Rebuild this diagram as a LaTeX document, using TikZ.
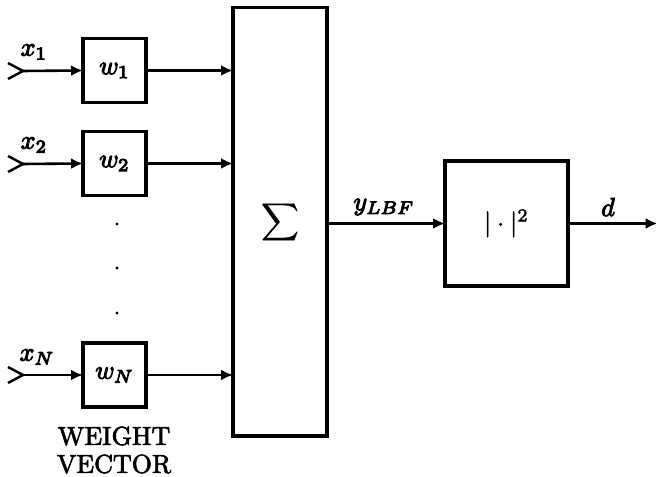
\documentclass[tikz,border=0pt]{standalone}
\usepackage{amsmath}
\usetikzlibrary{arrows.meta}
\newcommand{\heavy}[2][0.38]{\special{pdf:code 2 Tr #1 w}#2\special{pdf:code 0 Tr}}
\tikzset{
  blockbox/.style={draw=black,line width=1.2pt,fill=white,inner sep=0pt,minimum width=#1},
  conn/.style={line width=1pt,-{Latex[length=4.6pt,width=4.2pt]},shorten >=-0.6pt},
  chevron/.style={line width=0.95pt},
  lbl/.style={inner sep=0pt,text=black},
  speck/.style={circle,fill=black,inner sep=0pt,minimum size=1.3pt}
}
\begin{document}
\begin{tikzpicture}[x=0.384pt,y=-0.384pt]
\useasboundingbox (0,0) rectangle (656,477);
% blocks
\node[blockbox=24.2pt,minimum height=24.6pt] (w1) at (114.5,70.5) {\heavy{$w_1$}};
\node[blockbox=24.2pt,minimum height=24.6pt] (w2) at (114.5,163.5) {\heavy{$w_2$}};
\node[blockbox=24.2pt,minimum height=24.6pt] (wN) at (114.5,375) {\heavy{$w_N$}};
\node[blockbox=36.1pt,minimum height=164.4pt] (sum) at (280,222) {\raisebox{-0.7pt}{\heavy[0.12]{$\displaystyle\sum$}}};
\node[blockbox=47.2pt,minimum height=48pt] (abs) at (506.5,223.5) {\heavy[0.15]{$|\cdot|^2$}};
% free ends
\coordinate (i1) at (23,71);
\coordinate (i2) at (23,164);
\coordinate (iN) at (23,375);
\coordinate (out) at (656,223.5);
% input chevrons
\foreach \n in {i1,i2,iN}{
  \draw[chevron] ([shift={(-15,-8)}]\n) -- (\n) -- ([shift={(-15,8)}]\n);
}
% connectors
\draw[conn] (i1) -- (w1.west);
\draw[conn] (i2) -- (w2.west);
\draw[conn] (iN) -- (wN.west);
\draw[conn] (w1.east) -- (w1.east -| sum.west);
\draw[conn] (w2.east) -- (w2.east -| sum.west);
\draw[conn] (wN.east) -- (wN.east -| sum.west);
\draw[conn] (sum.east |- abs.west) -- (abs.west);
\draw[conn] (abs.east) -- (out);
% labels
\node[lbl] (lx1) at (34,52) {\heavy{$x_1$}};
\node[lbl] (lx2) at (34,145) {\heavy{$x_2$}};
\node[lbl] (lxN) at (37,357) {\heavy{$x_N$}};
\node[lbl] (ly) at (384,207) {\heavy{$y_{LBF}$}};
\node[lbl] (ld) at (608,207) {\heavy{$d$}};
\node[lbl] (t1) at (114,436) {\heavy[0.25]{WEIGHT}};
\node[lbl] (t2) at (114,464) {\heavy[0.25]{VECTOR}};
% vertical dots
\node[speck] (d1) at (117,224) {};
\node[speck] (d2) at (117,268) {};
\node[speck] (d3) at (117,313) {};
\end{tikzpicture}
\end{document}
